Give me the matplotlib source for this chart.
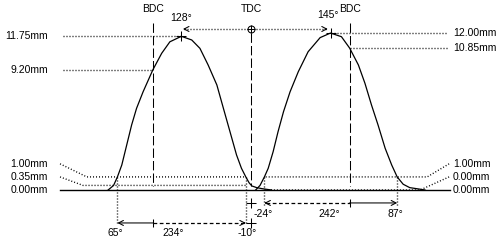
import numpy as np
import matplotlib.pyplot as plt

plt.rcParams['font.family'] = ['Liberation Sans', 'DejaVu Sans']

# crank angle (deg, 0 = overlap TDC) and valve lift (mm)
ex_deg = [-262, -252, -245, -237, -228, -219, -210, -198, -180, -164, -149, -128,
          -109, -94, -79, -63, -51, -39, -27, -18, -10, -4, 1, 10, 20, 37]
ex_lift = [0.0, 0.35, 1.00, 1.91, 3.44, 4.97, 6.24, 7.51, 9.20, 10.45, 11.33, 11.75,
           11.47, 10.83, 9.56, 8.03, 6.24, 4.46, 2.68, 1.66, 1.00, 0.55, 0.31, 0.18, 0.10, 0.0]
in_deg = [8, 16, 24, 31, 40, 49, 59, 71, 86, 104, 126, 145, 165, 180, 196, 208,
          220, 232, 245, 257, 267, 278, 290, 306, 318]
in_lift = [0.0, 0.35, 1.00, 1.66, 2.93, 4.46, 5.99, 7.51, 9.04, 10.57, 11.65, 12.00,
           11.72, 10.85, 9.56, 8.16, 6.50, 4.97, 3.19, 1.91, 1.00, 0.44, 0.18, 0.08, 0.0]

bdc_ex, tdc, bdc_in = -180, 0, 180
ex_open, ex_close = -245, -10
in_open, in_close = 24, 267
ex_peak, in_peak = -128, 145
ex_peak_lift, ex_bdc_lift = 11.75, 9.20
in_peak_lift, in_bdc_lift = 12.00, 10.85
ex_check = [1.00, 0.35]
in_check = [1.00, 0.00]

ex_texts = ['65°', '234°', '-10°']
in_texts = ['-24°', '242°', '87°']
ex_peak_text = '128°'
in_peak_text = '145°'
left_big = ['11.75mm', '9.20mm']
left_small = ['1.00mm', '0.35mm', '0.00mm']
right_big = ['12.00mm', '10.85mm']
right_small = ['1.00mm', '0.00mm', '0.00mm']

fig = plt.figure(figsize=(5, 2.4), dpi=100)
ax = fig.add_axes([0, 0, 1, 1])
ax.set_xlim(-459.9, 455.2)
ax.set_ylim(-3.823, 14.526)
ax.axis('off')

lw = 0.75
dlw = 1.0
dash = (0, (9, 3))
dot = (0, (0.72, 1.44))
fs = 7.5
k = 'black'

# lift curves
ax.plot(ex_deg, ex_lift, color=k, lw=0.9)
ax.plot(in_deg, in_lift, color=k, lw=0.9)

# baseline
ax.plot([-350, 364], [0, 0], color=k, lw=1.0)

# dead centre lines
for xv, top in [(bdc_ex, 12.77), (tdc, 12.0), (bdc_in, 12.77)]:
    ax.plot([xv, xv], [top, 0.3], color=k, lw=lw, ls=dash)
ax.text(bdc_ex, 13.84, 'BDC', ha='center', va='center', fontsize=fs)
ax.text(tdc, 13.84, 'TDC', ha='center', va='center', fontsize=fs)
ax.text(bdc_in, 13.84, 'BDC', ha='center', va='center', fontsize=fs)

# big lift labels
lx, rx = -372, 369
ax.text(lx, ex_peak_lift, left_big[0], ha='right', va='center', fontsize=fs)
ax.text(lx, ex_bdc_lift, left_big[1], ha='right', va='center', fontsize=fs)
ax.plot([-345, ex_peak], [ex_peak_lift] * 2, color=k, lw=dlw, ls=dot)
ax.plot([-345, bdc_ex], [ex_bdc_lift] * 2, color=k, lw=dlw, ls=dot)
ax.text(rx, in_peak_lift, right_big[0], ha='left', va='center', fontsize=fs)
ax.text(rx, in_bdc_lift, right_big[1], ha='left', va='center', fontsize=fs)
ax.plot([in_peak, 358], [in_peak_lift] * 2, color=k, lw=dlw, ls=dot)
ax.plot([bdc_in, 358], [in_bdc_lift] * 2, color=k, lw=dlw, ls=dot)

# small lift labels with leaders
slots = [2.0, 1.0, 0.0]
for t, s in zip(left_small, slots):
    ax.text(lx, s, t, ha='right', va='center', fontsize=fs)
for t, s in zip(right_small, slots):
    ax.text(rx, s, t, ha='left', va='center', fontsize=fs)
for lev, s, xe in zip(ex_check, slots, [-301, -308]):
    ax.plot([-350, xe, ex_close], [s, lev, lev], color=k, lw=dlw, ls=dot)
for lev, s, xe in zip(in_check, slots, [322, 309]):
    ax.plot([362, xe, in_open], [s, lev, lev], color=k, lw=dlw, ls=dot)

# timing rows
row_in, row_ex = -0.99, -2.52
txt_in, txt_ex = -1.83, -3.29
for xv in [ex_open, ex_close]:
    ax.plot([xv, xv], [1.0, row_ex - 0.15], color=k, lw=dlw, ls=dot)
for xv in [in_open, in_close]:
    ax.plot([xv, xv], [1.0, row_in - 0.15], color=k, lw=dlw, ls=dot)

ap = dict(arrowstyle='->,head_length=0.35,head_width=0.18', lw=lw, color=k,
          shrinkA=0, shrinkB=0, mutation_scale=10)

# exhaust row
ax.annotate('', xy=(ex_open, row_ex), xytext=(bdc_ex, row_ex), arrowprops=ap)
ax.plot([bdc_ex, ex_close - 3], [row_ex, row_ex], color=k, lw=0.9, ls=(0, (3, 2)))
ax.annotate('', xy=(ex_close, row_ex), xytext=(ex_close - 4, row_ex), arrowprops=ap)
ax.plot([bdc_ex], [row_ex], marker='|', ms=6, color=k, mew=lw)
ax.plot([tdc], [row_ex], marker='+', ms=7, color=k, mew=lw)
ax.text(ex_open - 4, txt_ex, ex_texts[0], ha='center', va='center', fontsize=fs)
ax.text((ex_open + ex_close) / 2 - 16, txt_ex, ex_texts[1], ha='center', va='center', fontsize=fs)
ax.text(ex_close + 2, txt_ex, ex_texts[2], ha='center', va='center', fontsize=fs)

# intake row
ax.plot([in_open + 3, bdc_in], [row_in, row_in], color=k, lw=0.9, ls=(0, (3, 2)))
ax.annotate('', xy=(in_open, row_in), xytext=(in_open + 4, row_in), arrowprops=ap)
ax.annotate('', xy=(in_close, row_in), xytext=(bdc_in, row_in), arrowprops=ap)
ax.plot([bdc_in], [row_in], marker='|', ms=6, color=k, mew=lw)
ax.plot([tdc], [row_in], marker='+', ms=7, color=k, mew=lw)
ax.text(in_open - 2, txt_in, in_texts[0], ha='center', va='center', fontsize=fs)
ax.text((in_open + in_close) / 2 - 2, txt_in, in_texts[1], ha='center', va='center', fontsize=fs)
ax.text(in_close - 3, txt_in, in_texts[2], ha='center', va='center', fontsize=fs)

# peak angles
row_pk = 12.31
ax.plot([ex_peak + 4, in_peak - 4], [row_pk, row_pk], color=k, lw=dlw, ls=dot)
ax.annotate('', xy=(ex_peak + 3, row_pk), xytext=(ex_peak + 8, row_pk), arrowprops=ap)
ax.annotate('', xy=(in_peak - 5, row_pk), xytext=(in_peak - 10, row_pk), arrowprops=ap)
ax.plot([tdc], [row_pk], marker='o', ms=5, mfc='white', mec=k, mew=lw)
ax.plot([tdc], [row_pk], marker='+', ms=6, color=k, mew=lw)
ax.plot([ex_peak, in_peak], [ex_peak_lift, in_peak_lift], ls='none', marker='+',
        ms=7, color=k, mew=lw)
ax.text(ex_peak, 13.15, ex_peak_text, ha='center', va='center', fontsize=fs)
ax.text(in_peak - 4, 13.38, in_peak_text, ha='center', va='center', fontsize=fs)

fig.savefig('out.png', dpi=100, facecolor='white')
